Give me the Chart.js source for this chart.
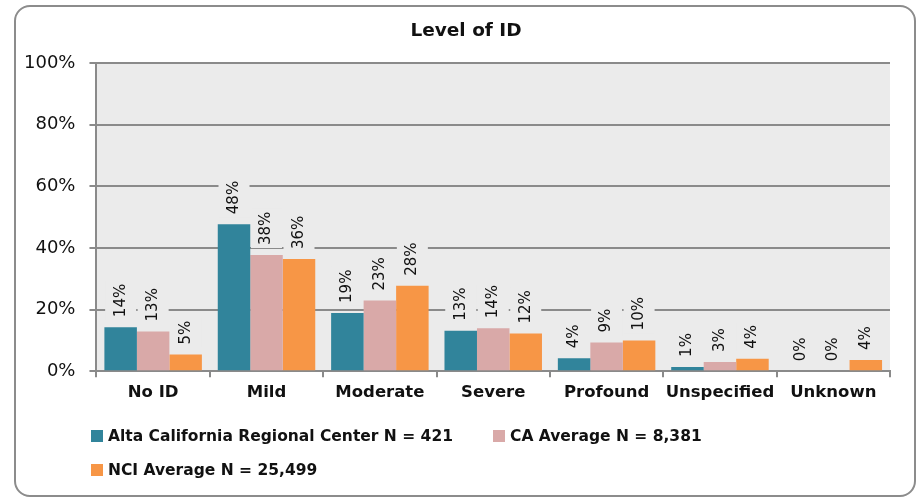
<!DOCTYPE html>
<html>
<head>
<meta charset="utf-8">
<script src="https://cdn.jsdelivr.net/npm/chart.js@4.4.0/dist/chart.umd.min.js"></script>
<style>
  body { margin: 0; background: #fff; }
  #wrap { position: relative; width: 923px; height: 501px; }
  #frame { position: absolute; left: 14px; top: 5px; width: 898px; height: 488px;
           border: 2.5px solid #8c8c8c; border-radius: 16px; pointer-events: none; }
  #title { position: absolute; left: 266px; width: 400px; top: 17px; text-align: center;
           font: bold 18.5px "DejaVu Sans", sans-serif; color: #111; line-height: 26px; }
  #legend { position: absolute; left: 91px; top: 419px; display: grid;
            grid-template-columns: 402px auto; grid-auto-rows: 34px;
            font: bold 15.5px "DejaVu Sans", sans-serif; color: #111; }
  #legend div { display: flex; align-items: center; }
  #legend span { display: inline-block; width: 12px; height: 12px; margin-right: 5px; }
</style>
</head>
<body>
<div id="wrap">
  <canvas id="c" width="923" height="501"></canvas>
  <div id="frame"></div>
  <div id="title">Level of ID</div>
  <div id="legend"></div>
</div>
<script>
var categories = ["No ID", "Mild", "Moderate", "Severe", "Profound", "Unspecified", "Unknown"];
var alta = [14.3, 47.7, 18.9, 13.1, 4.2, 1.4, 0];
var caAvg = [12.9, 37.7, 22.9, 13.9, 9.3, 3.0, 0];
var nciAvg = [5.4, 36.4, 27.7, 12.2, 10.0, 4.0, 3.6];
var seriesNames = ["Alta California Regional Center N = 421", "CA Average N = 8,381", "NCI Average N = 25,499"];
var seriesColors = ["#31849B", "#D9A9A8", "#F79646"];
var yTicks = [0, 20, 40, 60, 80, 100];

var plotBg = '#EBEBEB';
var gridCol = '#8a8a8a';

// fond gris de la zone de tracé
var plotArea = {
    id: 'plotArea',
    beforeDraw: function (chart) {
        var a = chart.chartArea, ctx = chart.ctx;
        ctx.save();
        ctx.fillStyle = plotBg;
        ctx.fillRect(a.left, a.top, a.right - a.left, a.bottom - a.top);
        ctx.restore();
    }
};

// étiquettes verticales au-dessus des barres
var barLabels = {
    id: 'barLabels',
    afterDatasetsDraw: function (chart) {
        var ctx = chart.ctx;
        ctx.save();
        ctx.font = '15px "DejaVu Sans"';
        chart.data.datasets.forEach(function (ds, i) {
            chart.getDatasetMeta(i).data.forEach(function (bar, j) {
                var txt = Math.round(ds.data[j]) + '%';
                var w = ctx.measureText(txt).width;
                var y0 = bar.y - 10;
                ctx.fillStyle = plotBg;
                ctx.fillRect(bar.x - 15.5, y0 - w - 3, 31, w + 6);
                ctx.save();
                ctx.translate(bar.x, y0);
                ctx.rotate(-Math.PI / 2);
                ctx.fillStyle = '#111';
                ctx.textAlign = 'left';
                ctx.textBaseline = 'middle';
                ctx.fillText(txt, 0, 0);
                ctx.restore();
            });
        });
        ctx.restore();
    }
};

var series = [alta, caAvg, nciAvg];

new Chart(document.getElementById('c'), {
    type: 'bar',
    data: {
        labels: categories,
        datasets: series.map(function (d, i) {
            return {
                label: seriesNames[i],
                data: d,
                backgroundColor: seriesColors[i],
                barPercentage: 1.0,
                categoryPercentage: 0.86
            };
        })
    },
    options: {
        responsive: false,
        animation: false,
        layout: { padding: { left: 10, right: 33, top: 63, bottom: 92 } },
        plugins: {
            legend: { display: false },
            tooltip: { enabled: false },
            title: { display: false }
        },
        scales: {
            x: {
                grid: { drawOnChartArea: false, drawTicks: true, tickLength: 6, color: gridCol, lineWidth: 2 },
                border: { color: gridCol, width: 2 },
                ticks: {
                    color: '#111', padding: 6, maxRotation: 0, autoSkip: false,
                    font: { family: 'DejaVu Sans', size: 16.5, weight: 'bold' }
                }
            },
            y: {
                min: 0,
                max: 100,
                afterBuildTicks: function (axis) {
                    axis.ticks = yTicks.map(function (v) { return { value: v }; });
                },
                grid: { color: gridCol, lineWidth: 2, tickLength: 7 },
                border: { color: gridCol, width: 2 },
                ticks: {
                    color: '#111', padding: 14,
                    font: { family: 'DejaVu Sans', size: 18 },
                    callback: function (v) { return v + '%'; }
                }
            }
        }
    },
    plugins: [plotArea, barLabels]
});

// légende en HTML, deux colonnes comme dans l'original
var leg = document.getElementById('legend');
seriesNames.forEach(function (name, i) {
    var item = document.createElement('div');
    var sw = document.createElement('span');
    sw.style.background = seriesColors[i];
    item.appendChild(sw);
    item.appendChild(document.createTextNode(name));
    leg.appendChild(item);
});
</script>
</body>
</html>
